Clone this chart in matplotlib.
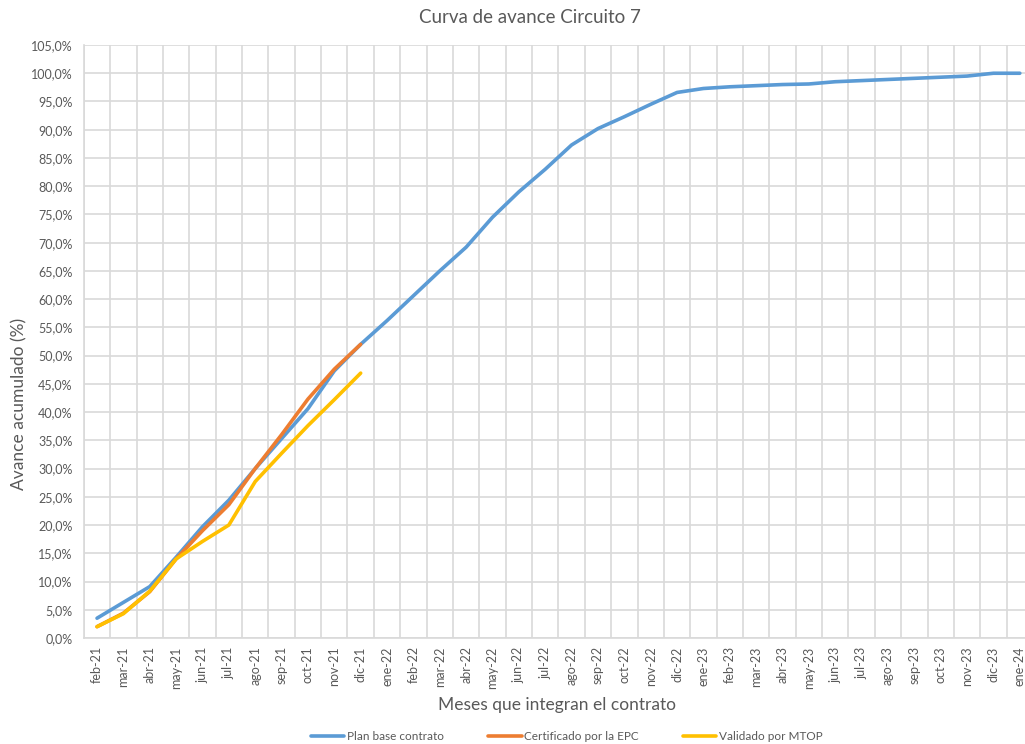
import matplotlib.pyplot as plt
from matplotlib.ticker import FuncFormatter, MultipleLocator

plt.rcParams['font.family'] = ['Lato', 'DejaVu Sans']

meses = ['feb-21', 'mar-21', 'abr-21', 'may-21', 'jun-21', 'jul-21', 'ago-21', 'sep-21',
         'oct-21', 'nov-21', 'dic-21', 'ene-22', 'feb-22', 'mar-22', 'abr-22', 'may-22',
         'jun-22', 'jul-22', 'ago-22', 'sep-22', 'oct-22', 'nov-22', 'dic-22', 'ene-23',
         'feb-23', 'mar-23', 'abr-23', 'may-23', 'jun-23', 'jul-23', 'ago-23', 'sep-23',
         'oct-23', 'nov-23', 'dic-23', 'ene-24']

plan_base = [3.5, 6.3, 9.1, 14.3, 19.7, 24.4, 30.0, 35.3, 40.6, 47.3, 52.0, 56.2,
             60.6, 65.0, 69.2, 74.5, 79.0, 83.0, 87.3, 90.2, 92.3, 94.5, 96.6, 97.3,
             97.6, 97.8, 98.0, 98.1, 98.5, 98.7, 98.9, 99.1, 99.3, 99.5, 100.0, 100.0]

certificado = [2.0, 4.4, 8.2, 14.0, 19.0, 23.6, 30.0, 36.0, 42.3, 47.6, 52.0]

validado = [2.0, 4.3, 8.3, 14.0, 17.1, 20.0, 27.7, 32.7, 37.6, 42.2, 46.9]

gris = '#595959'
grid_c = '#d9d9d9'

fig = plt.figure(figsize=(10.25, 7.44), dpi=100)
ax = fig.add_axes([0.0818, 0.1425, 0.926, 0.797])

x = list(range(len(meses)))
ax.plot(x, plan_base, color='#5B9BD5', lw=2.6, label='Plan base contrato', solid_capstyle='round')
ax.plot(x[:len(certificado)], certificado, color='#ED7D31', lw=2.6, label='Certificado por la EPC', solid_capstyle='round')
ax.plot(x[:len(validado)], validado, color='#FFC000', lw=2.6, label='Validado por MTOP', solid_capstyle='round')

ax.set_xlim(-0.5, len(meses) - 0.5)
ax.set_ylim(0, 105)
ax.yaxis.set_major_locator(MultipleLocator(5))
ax.yaxis.set_major_formatter(FuncFormatter(lambda v, p: f'{v:.1f}%'.replace('.', ',')))
ax.set_xticks(x)
ax.set_xticklabels(meses, rotation=90)
ax.set_xticks([i + 0.5 for i in range(-1, len(meses))], minor=True)

ax.grid(True, which='major', axis='y', color=grid_c, lw=1.2)
ax.grid(True, which='minor', axis='x', color=grid_c, lw=1.2)
ax.set_axisbelow(True)

ax.tick_params(axis='x', which='major', length=0, labelsize=9, labelcolor=gris, pad=6)
ax.tick_params(axis='x', which='minor', length=0)
ax.tick_params(axis='y', length=0, labelsize=9, labelcolor=gris, pad=8)

for s in ['top', 'right']:
    ax.spines[s].set_visible(False)
for s in ['left', 'bottom']:
    ax.spines[s].set_color(grid_c)
    ax.spines[s].set_linewidth(1.2)

fig.text(0.517, 0.977, 'Curva de avance Circuito 7', ha='center', va='center', fontsize=13.5, color=gris)
fig.text(0.543, 0.052, 'Meses que integran el contrato', ha='center', va='center', fontsize=12.5, color=gris)
fig.text(0.019, 0.457, 'Avance acumulado (%)', ha='center', va='center', rotation=90, fontsize=12.5, color=gris)

fig.legend(loc='center', bbox_to_anchor=(0.553, 0.01), ncol=3, frameon=False, fontsize=8.5,
           labelcolor=gris, handlelength=2.8, handletextpad=0.2, columnspacing=3.8)

fig.savefig('out.png', dpi=100)
